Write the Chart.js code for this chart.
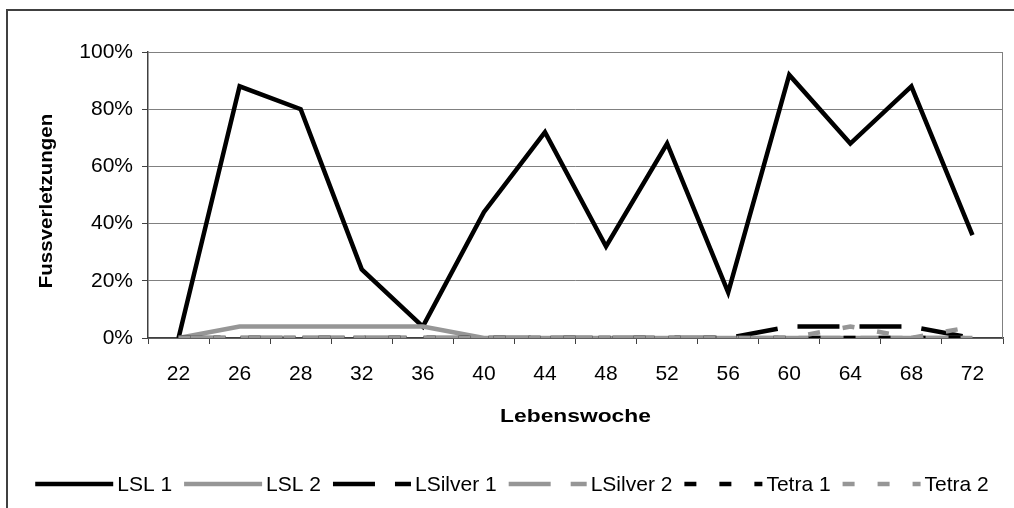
<!DOCTYPE html>
<html>
<head>
    <title>Fussverletzungen</title>
    <script src="https://cdn.jsdelivr.net/npm/chart.js@4.4.1/dist/chart.umd.min.js"></script>
    <style>
        html, body { margin: 0; padding: 0; background: #fff; }
        #wrap { width: 1014px; height: 508px; }
    </style>
</head>
<body>
    <div id="wrap"><canvas id="chart"></canvas></div>
    <script>
        // Lebenswoche
        var weeks = ['22', '26', '28', '32', '36', '40', '44', '48', '52', '56', '60', '64', '68', '72'];
        var yTicks = [0, 0.2, 0.4, 0.6, 0.8, 1];

        // Anteil Tiere mit Fussverletzungen
        var lsl1     = [0, 0.88, 0.80, 0.24, 0.04, 0.44, 0.72, 0.32, 0.68, 0.16, 0.92, 0.68, 0.88, 0.36];
        var lsl2     = [0, 0.04, 0.04, 0.04, 0.04, 0, 0, 0, 0, 0, 0, 0, 0, 0];
        var lsilver1 = [0, 0, 0, 0, 0, 0, 0, 0, 0, 0, 0.04, 0.04, 0.04, 0];
        var lsilver2 = [0, 0, 0, 0, 0, 0, 0, 0, 0, 0, 0, 0, 0, 0];
        var tetra1   = [0, 0, 0, 0, 0, 0, 0, 0, 0, 0, 0, 0, 0, 0];
        var tetra2   = [0, 0, 0, 0, 0, 0, 0, 0, 0, 0, 0, 0.04, 0, 0.04];

        var BLACK = '#000000';
        var GREY = '#969696';
        var FONT = '"Liberation Sans", Arial, sans-serif';

        function series(label, data, color, dash, order) {
            return {
                label: label,
                data: data,
                borderColor: color,
                backgroundColor: color,
                borderWidth: 4.5,
                borderDash: dash,
                borderCapStyle: 'butt',
                borderJoinStyle: 'miter',
                pointRadius: 0,
                pointHoverRadius: 0,
                tension: 0,
                fill: false,
                order: order
            };
        }

        // rahmen, titel und legende
        var decor = {
            id: 'decor',
            beforeDraw: function (chart) {
                var ctx = chart.ctx;
                ctx.save();
                ctx.strokeStyle = '#404040';
                ctx.lineWidth = 2;
                ctx.strokeRect(7, 10, 1100, 600);
                ctx.restore();
            },
            afterDraw: function (chart) {
                var ctx = chart.ctx;
                var a = chart.chartArea;
                ctx.save();
                // Rahmen Zeichnungsfläche (oben, rechts)
                ctx.strokeStyle = '#808080';
                ctx.lineWidth = 1;
                ctx.beginPath();
                ctx.moveTo(a.left, a.top + 0.5);
                ctx.lineTo(a.right - 0.5, a.top + 0.5);
                ctx.lineTo(a.right - 0.5, a.bottom);
                ctx.stroke();

                // Achsentitel (etwas breit gezogen wie im Original)
                ctx.fillStyle = '#000';
                ctx.font = 'bold 19px ' + FONT;
                ctx.textAlign = 'center';
                ctx.textBaseline = 'middle';
                ctx.save();
                ctx.translate((a.left + a.right) / 2, 417);
                ctx.scale(1.2, 1);
                ctx.fillText('Lebenswoche', 0, 0);
                ctx.restore();
                ctx.save();
                ctx.translate(47, 201);
                ctx.rotate(-Math.PI / 2);
                ctx.scale(1.08, 1);
                ctx.fillText('Fussverletzungen', 0, 0);
                ctx.restore();

                // Legende
                var sets = chart.data.datasets;
                ctx.font = '21px ' + FONT;
                var lineLen = 78, gapText = 4, gapItem = 12;
                var total = 0;
                sets.forEach(function (d, i) {
                    total += lineLen + gapText + ctx.measureText(d.label).width;
                    if (i < sets.length - 1) total += gapItem;
                });
                var x = 512 - total / 2;
                var y = 484;
                ctx.textAlign = 'left';
                sets.forEach(function (d) {
                    ctx.beginPath();
                    ctx.strokeStyle = d.borderColor;
                    ctx.lineWidth = d.borderWidth;
                    ctx.lineCap = 'butt';
                    ctx.setLineDash(d.borderDash || []);
                    ctx.moveTo(x, y);
                    ctx.lineTo(x + lineLen, y);
                    ctx.stroke();
                    ctx.setLineDash([]);
                    x += lineLen + gapText;
                    ctx.fillStyle = '#000';
                    ctx.fillText(d.label, x, y + 1);
                    x += ctx.measureText(d.label).width + gapItem;
                });
                ctx.restore();
            }
        };

        var ctx = document.getElementById('chart').getContext('2d');
        var chart = new Chart(ctx, {
            type: 'line',
            data: {
                labels: weeks,
                datasets: [
                    series('LSL 1', lsl1, BLACK, [], 6),
                    series('LSL 2', lsl2, GREY, [], 5),
                    series('LSilver 1', lsilver1, BLACK, [42, 20], 4),
                    series('LSilver 2', lsilver2, GREY, [42, 20], 3),
                    series('Tetra 1', tetra1, BLACK, [12, 23], 2),
                    series('Tetra 2', tetra2, GREY, [12, 23], 1)
                ]
            },
            options: {
                responsive: true,
                maintainAspectRatio: false,
                animation: false,
                layout: { padding: { top: 52, right: 11, left: 0, bottom: 0 } },
                plugins: {
                    legend: { display: false },
                    tooltip: { enabled: false }
                },
                scales: {
                    x: {
                        offset: true,
                        afterFit: function (s) { s.height = 170; },
                        grid: {
                            offset: true,
                            drawOnChartArea: false,
                            tickLength: 6,
                            color: '#404040',
                            lineWidth: 1
                        },
                        border: { color: '#404040', width: 1.5 },
                        ticks: {
                            color: '#000',
                            font: { family: FONT, size: 21 },
                            padding: 18,
                            maxRotation: 0,
                            autoSkip: false
                        }
                    },
                    y: {
                        min: 0,
                        max: 1,
                        afterFit: function (s) { s.width = 148; },
                        afterBuildTicks: function (s) {
                            s.ticks = yTicks.map(function (v) { return { value: v }; });
                        },
                        grid: {
                            color: '#808080',
                            lineWidth: 1,
                            tickLength: 6,
                            tickColor: '#404040'
                        },
                        border: { color: '#404040', width: 1.5 },
                        ticks: {
                            color: '#000',
                            font: { family: FONT, size: 21 },
                            padding: 9,
                            callback: function (v) { return Math.round(v * 100) + '%'; }
                        }
                    }
                }
            },
            plugins: [decor]
        });
    </script>
</body>
</html>
